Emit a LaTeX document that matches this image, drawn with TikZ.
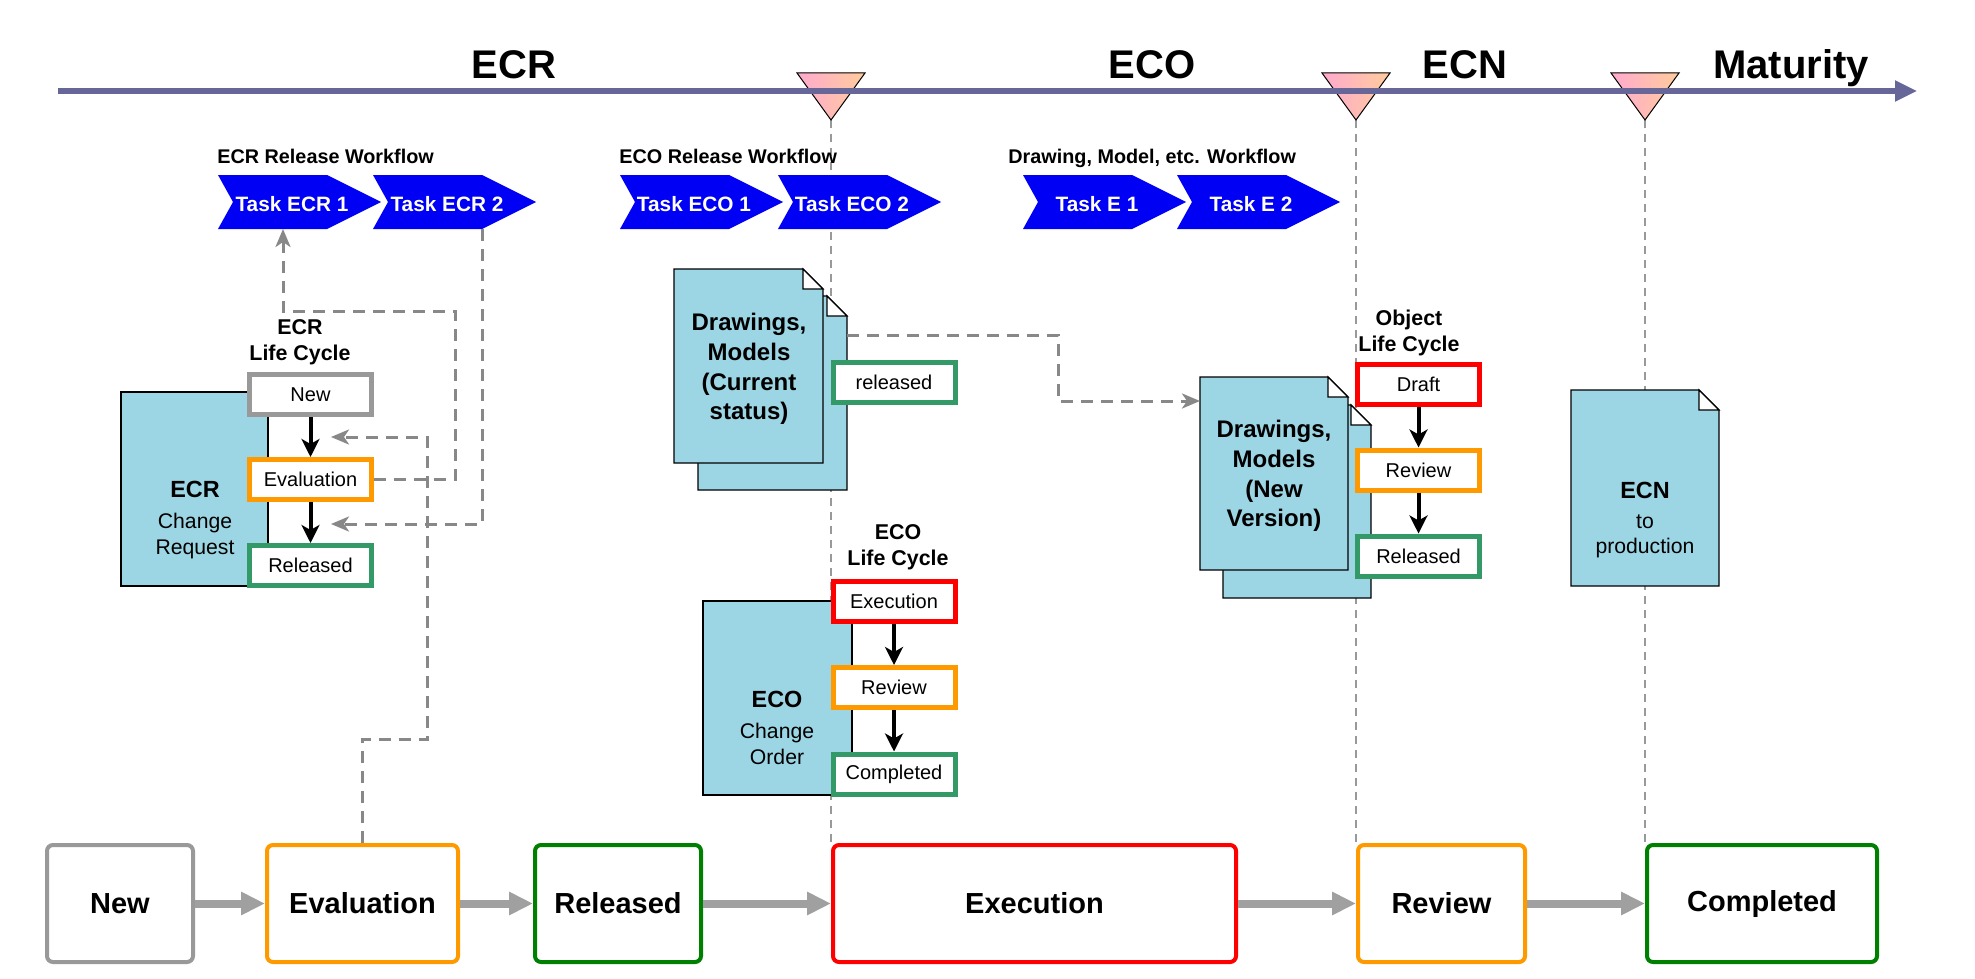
\documentclass[tikz,border=0pt]{standalone}
\usepackage{fontspec}
\setmainfont{Liberation Sans}
\usetikzlibrary{arrows.meta,calc}
\definecolor{docblue}{RGB}{156,214,228}
\definecolor{chevblue}{RGB}{0,0,245}
\definecolor{tlblue}{RGB}{102,102,153}
\definecolor{dashgray}{RGB}{136,136,136}
\definecolor{arrgray}{RGB}{160,160,160}
\definecolor{lcgray}{RGB}{153,153,153}
\definecolor{orange1}{RGB}{255,153,0}
\definecolor{lcgreen}{RGB}{51,153,102}
\definecolor{red1}{RGB}{255,0,0}
\definecolor{bgreen}{RGB}{0,128,0}
\definecolor{tpinkL}{RGB}{255,170,206}
\definecolor{tpink}{RGB}{255,150,204}
\definecolor{tpeach}{RGB}{255,204,156}
\newcommand\chev[3]{%
  \node[chevnode] (#1) at (#2,202) {};
  \fill[chevblue] (#1.north west) -- ($(#1.north west)+(109,0)$) -- (#1.east) -- ($(#1.south west)+(109,0)$) -- (#1.south west) -- ($(#1.west)+(15,0)$) -- cycle;
  \node[chevtext] (#1-t) at ($(#1.west)+(74,9)$) {#3};
}
\newcommand\docfold[5]{%
  \node[docnode, minimum width=#4*0.5pt, minimum height=#5*0.5pt] (#1) at (#2,#3) {};
  \draw[docline] (#1.north west) -- ($(#1.north east)+(-20,0)$) -- ($(#1.north east)+(0,20)$) -- (#1.south east) -- (#1.south west) -- cycle;
  \draw[docline, fill=white] ($(#1.north east)+(-20,0)$) -- ($(#1.north east)+(-20,20)$) -- ($(#1.north east)+(0,20)$) -- cycle;
}
\begin{document}
\begin{tikzpicture}[x=0.5pt,y=-0.5pt,
  phase/.style={font=\fontsize{20}{24}\selectfont\bfseries, anchor=base, inner sep=0},
  wftitle/.style={font=\fontsize{9.9}{11}\selectfont\bfseries, anchor=base west, inner sep=0},
  chevnode/.style={minimum width=81.5pt, minimum height=27pt, inner sep=0, outer sep=0, anchor=west},
  chevtext/.style={text=white, font=\fontsize{10.4}{12}\selectfont\bfseries, anchor=base, inner sep=0},
  docnode/.style={inner sep=0, outer sep=0},
  docline/.style={draw=black, line width=0.6pt, fill=docblue},
  docrect/.style={draw=black, line width=0.6pt, fill=docblue, inner sep=0, outer sep=0},
  doctext/.style={font=\fontsize{12}{14.9}\selectfont\bfseries, align=center, inner sep=0},
  docttl/.style={font=\fontsize{11.7}{14}\selectfont\bfseries, anchor=base, inner sep=0},
  docsub/.style={font=\fontsize{10.6}{13}\selectfont, anchor=base, inner sep=0},
  lclabel/.style={font=\fontsize{10.7}{13}\selectfont\bfseries, align=center, inner sep=0},
  lcbox/.style={draw, line width=2.5pt, fill=white, minimum width=61pt, minimum height=20pt, inner sep=0, font=\fontsize{10}{12}\selectfont},
  lcarrow/.style={draw=black, line width=2pt, -{Stealth[length=9pt,width=9pt,inset=2.5pt]}},
  dashconn/.style={draw=dashgray, line width=1.5pt, dash pattern=on 6pt off 4pt, -{Stealth[length=9pt,width=7.5pt,inset=2.5pt]}},
  vline/.style={draw=lcgray, line width=0.6pt, dash pattern=on 4pt off 3pt},
  bbox/.style={draw, line width=2pt, rounded corners=3pt, fill=white, minimum height=58.5pt, inner sep=0, font=\fontsize{14.5}{17}\selectfont\bfseries},
  bigarrow/.style={draw=arrgray, line width=4pt, -{Triangle[length=12pt,width=11pt]}},
  timeline/.style={draw=tlblue, line width=2.6pt, -{Triangle[length=11pt,width=10pt]}}
]
\useasboundingbox (0,0) rectangle (1975,979);

% bottom state boxes
\node[bbox, draw=lcgray, minimum width=73pt] (bNew) at (120,903.5) {New};
\node[bbox, draw=orange1, minimum width=95.5pt] (bEval) at (362.5,903.5) {Evaluation};
\node[bbox, draw=bgreen, minimum width=83pt] (bRel) at (618,903.5) {Released};
\node[bbox, draw=red1, minimum width=201.5pt] (bExec) at (1034.5,903.5) {Execution};
\node[bbox, draw=orange1, minimum width=83.5pt] (bRev) at (1441.5,903.5) {Review};
\node[bbox, draw=bgreen, minimum width=115pt] (bComp) at (1762,903.5) {Completed};
\draw[bigarrow] (bNew.east) -- (bEval.west);
\draw[bigarrow] (bEval.east) -- (bRel.west);
\draw[bigarrow] (bRel.east) -- (bExec.west);
\draw[bigarrow] (bExec.east) -- (bRev.west);
\draw[bigarrow] (bRev.east) -- (bComp.west);

% milestones
\coordinate (m1) at (831,120);
\coordinate (m2) at (1356,120);
\coordinate (m3) at (1645,120);
\draw[vline] (m1) -- (m1 |- bExec.north);
\draw[vline] (m2) -- (m2 |- bRev.north);
\draw[vline] (m3) -- (m3 |- bComp.north);
\foreach \m in {m1,m2,m3}{
  \shadedraw[draw=black, line width=0.5pt, left color=tpinkL, middle color=tpink, right color=tpeach]
    ($(\m)+(-34,-47)$) -- ($(\m)+(34,-47)$) -- (\m) -- cycle;
}
\coordinate (tl0) at (58,91);
\coordinate (tl1) at (1917,91);
\draw[timeline] (tl0) -- (tl1);

\node[phase] (pECR) at (514,79) {ECR};
\node[phase] (pECO) at (1152,79) {ECO};
\node[phase] (pECN) at (1465,79) {ECN};
\node[phase] (pMat) at (1791,79) {Maturity};

% workflows
\node[wftitle] (w1) at (217,163) {ECR Release Workflow};
\node[wftitle] (w2) at (619,163) {ECO Release Workflow};
\node[wftitle] (w3) at (1008,163) {Drawing, Model, etc. Workflow};
\chev{t1}{218}{Task ECR 1}
\chev{t2}{373}{Task ECR 2}
\chev{t3}{620}{Task ECO 1}
\chev{t4}{778}{Task ECO 2}
\chev{t5}{1023}{Task E 1}
\chev{t6}{1177}{Task E 2}

% documents
\node[docrect, minimum width=73.5pt, minimum height=97pt] (ecrDoc) at (194.5,489) {};
\node[docttl] (ecrT) at (195,497) {ECR};
\node[docsub] (ecrS1) at (195,528) {Change};
\node[docsub] (ecrS2) at (195,554) {Request};

\node[docrect, minimum width=74.5pt, minimum height=97pt] (ecoDoc) at (777.5,698) {};
\node[docttl] (ecoT) at (777,707) {ECO};
\node[docsub] (ecoS1) at (777,738) {Change};
\node[docsub] (ecoS2) at (777,764) {Order};

\docfold{d1b}{772.5}{393}{149}{194}
\docfold{d1f}{748.5}{366}{149}{194}
\node[doctext] (d1t) at (749,369) {Drawings,\\Models\\(Current\\status)};

\docfold{d2b}{1297}{501.5}{148}{193}
\docfold{d2f}{1274}{473.5}{148}{193}
\node[doctext] (d2t) at (1274,476) {Drawings,\\Models\\(New\\Version)};

\docfold{ecnDoc}{1645}{488}{148}{196}
\node[docttl] (ecnT) at (1645,498) {ECN};
\node[docsub] (ecnS1) at (1645,528) {to};
\node[docsub] (ecnS2) at (1645,553) {production};

% life cycles
\node[lclabel] (lcl1) at (300,342) {ECR\\Life Cycle};
\node[lcbox, draw=lcgray] (lcNew) at (310.5,394.5) {New};
\node[lcbox, draw=orange1] (lcEval) at (310.5,479.5) {Evaluation};
\node[lcbox, draw=lcgreen] (lcRel) at (310.5,565.5) {Released};
\draw[lcarrow] (lcNew.south) -- (lcEval.north);
\draw[lcarrow] (lcEval.south) -- (lcRel.north);

\node[lcbox, draw=lcgreen] (rel1) at (894,382) {released};

\node[lclabel] (lcl2) at (898,547) {ECO\\Life Cycle};
\node[lcbox, draw=red1] (lcExec) at (894,601.5) {Execution};
\node[lcbox, draw=orange1] (lcRev) at (894,687.5) {Review};
\node[lcbox, draw=lcgreen] (lcComp) at (894,774) {Completed};
\draw[lcarrow] (lcExec.south) -- (lcRev.north);
\draw[lcarrow] (lcRev.south) -- (lcComp.north);

\node[lclabel] (lcl3) at (1409,333) {Object\\Life Cycle};
\node[lcbox, draw=red1] (oDraft) at (1418.5,384.5) {Draft};
\node[lcbox, draw=orange1] (oRev) at (1418.5,470) {Review};
\node[lcbox, draw=lcgreen] (oRel) at (1418.5,556) {Released};
\draw[lcarrow] (oDraft.south) -- (oRev.north);
\draw[lcarrow] (oRev.south) -- (oRel.north);

% dashed connectors
\coordinate (k1) at (455,311);
\draw[dashconn] (lcEval.east) -| (k1) -| ($(t1.south west)+(65,0)$);
\coordinate (a2) at (331,524);
\draw[dashconn] ($(t2.south west)+(109,0)$) |- (a2);
\coordinate (k3) at (427,739);
\coordinate (a3) at (331,437);
\draw[dashconn] (bEval.north) |- (k3) |- (a3);
\coordinate (k4) at (1058,401);
\draw[dashconn] ($(d1b.north east)+(0,39)$) -| (k4) -- (k4 -| d2f.west);
\end{tikzpicture}
\end{document}
